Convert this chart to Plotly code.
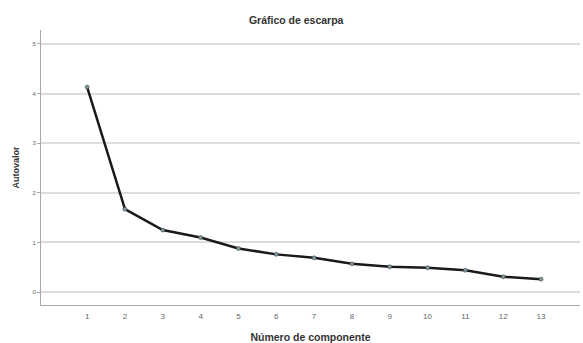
import plotly.graph_objects as go

components = [1, 2, 3, 4, 5, 6, 7, 8, 9, 10, 11, 12, 13]
eigenvalues = [4.13, 1.67, 1.25, 1.10, 0.88, 0.76, 0.69, 0.57, 0.51, 0.49, 0.44, 0.31, 0.26]
y_ticks = [0, 1, 2, 3, 4, 5]

fig = go.Figure()
fig.add_trace(go.Scatter(
    x=components, y=eigenvalues, mode="lines+markers",
    line=dict(color="#1a1a1a", width=2.5),
    marker=dict(size=4, color="#7f9aa0", line=dict(color="#333333", width=0.5)),
    showlegend=False,
))

fig.update_layout(
    width=583, height=343,
    margin=dict(l=41, r=3, t=30, b=38, autoexpand=False),
    paper_bgcolor="white", plot_bgcolor="white",
    font=dict(family="Liberation Sans, Arial, sans-serif", color="#444444"),
    title=dict(text="<b>Gráfico de escarpa</b>", x=0.508, xanchor="center",
               y=1 - 20 / 343, yanchor="middle",
               font=dict(size=10.5, color="#333333")),
)
fig.update_xaxes(
    range=[-0.22, 14.03], tickvals=components, ticktext=[str(c) for c in components],
    showgrid=False, zeroline=False, showline=True, linecolor="#aaaaaa", linewidth=1,
    tickfont=dict(size=8, color="#666666"), ticks="", ticklabelstandoff=3,
    automargin=False,
    title=dict(text="<b>Número de componente</b>", font=dict(size=10.5, color="#333333"), standoff=14),
)
fig.update_yaxes(
    range=[-0.26, 5.28], tickvals=y_ticks, ticktext=[str(v) for v in y_ticks],
    showgrid=True, gridcolor="#dddddd", gridwidth=1.5, zeroline=False,
    showline=True, linecolor="#aaaaaa", linewidth=1,
    ticks="outside", ticklen=3, tickcolor="#aaaaaa",
    tickfont=dict(size=6, color="#666666"),
    automargin=False,
    title=dict(text="<b>Autovalor</b>", font=dict(size=9, color="#333333"), standoff=11),
)

fig.write_html("out.html", config={"displayModeBar": False},
               post_script="document.body.style.margin='0';")
